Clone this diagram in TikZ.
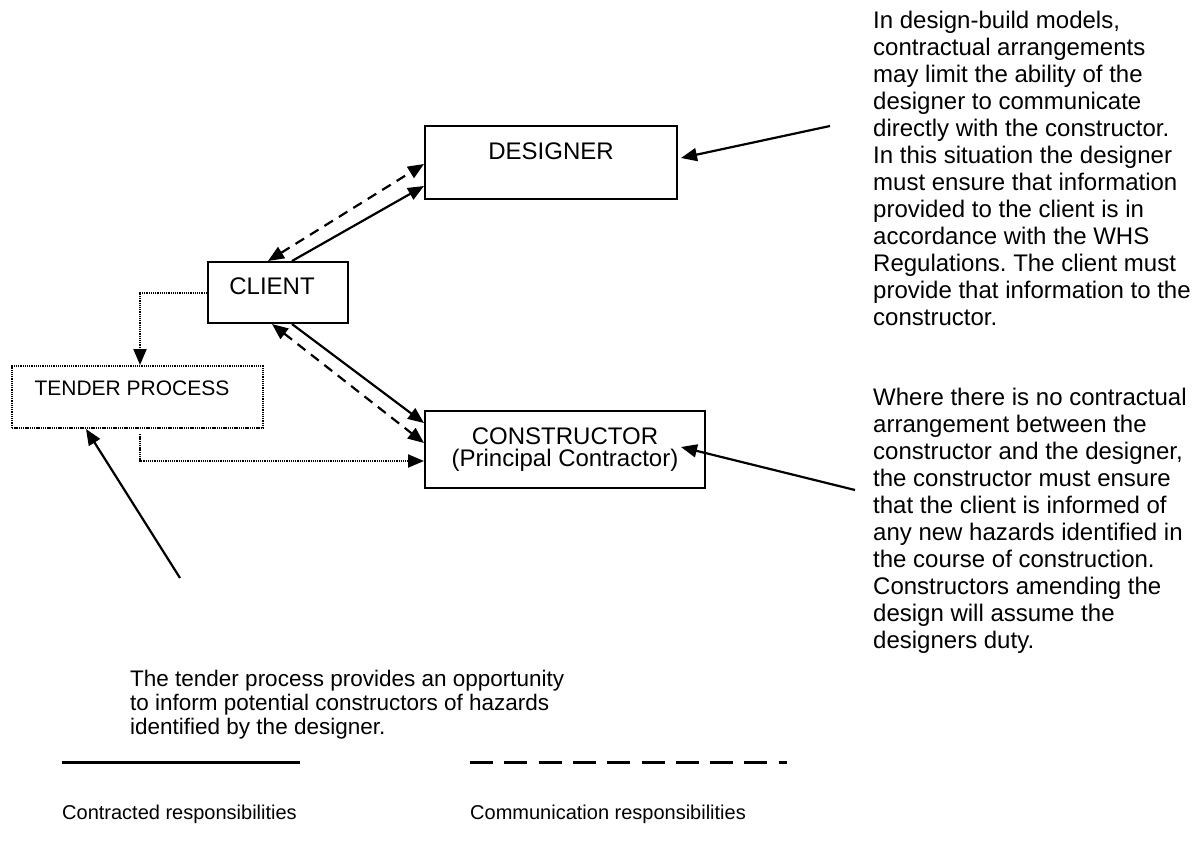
\documentclass[tikz,border=0pt]{standalone}
\usepackage{fontspec}
\setmainfont{Liberation Sans}
\usetikzlibrary{arrows.meta}
\frenchspacing

\tikzset{
  box/.style={draw, line width=2pt, inner sep=0pt},
  boxtext/.style={inner sep=0pt, font=\fontsize{24}{22}\selectfont},
  note/.style={inner sep=0pt, anchor=north west, align=left, font=\fontsize{24}{27}\selectfont},
  legend/.style={inner sep=0pt, anchor=base west, font=\fontsize{20}{23}\selectfont},
  tip/.tip={Triangle[length=16pt,width=13pt]},
  link/.style={line width=2.2pt, -tip},
  talk/.style={line width=2.2pt, tip-tip, dash pattern=on 10pt off 7pt},
  dotline/.style={line width=2pt, dash pattern=on 1.3pt off 0.9pt}
}

\begin{document}
\begin{tikzpicture}[x=1pt, y=-1pt]
\useasboundingbox (0,0) rectangle (1199,843);

% boxes
\node[box, minimum width=252pt, minimum height=73pt] (designer) at (551,162.5) {};
\node[boxtext] (designer-lbl) at (551,151) {DESIGNER};
\node[box, minimum width=140pt, minimum height=61pt] (client) at (278,292.5) {};
\node[boxtext] (client-lbl) at (272,286) {CLIENT};
\node[box, dotline, minimum width=251pt, minimum height=62pt] (tender) at (137.5,397) {};
\node[boxtext, font=\fontsize{21}{24}\selectfont] (tender-lbl) at (132,388) {TENDER PROCESS};
\node[box, minimum width=280pt, minimum height=77pt] (constructor) at (565,449.5) {};
\node[boxtext, align=center] (constructor-lbl) at (565,450) {CONSTRUCTOR\\(Principal Contractor)};

% notes
\node[note] (note-design) at (873,10.5) {In design-build models,\\contractual arrangements\\may limit the ability of the\\designer to communicate\\directly with the constructor.\\In this situation the designer\\must ensure that information\\provided to the client is in\\accordance with the WHS\\Regulations. The client must\\provide that information to the\\constructor.};
\node[note] (note-build) at (873,387.5) {Where there is no contractual\\arrangement between the\\constructor and the designer,\\the constructor must ensure\\that the client is informed of\\any new hazards identified in\\the course of construction.\\Constructors amending the\\design will assume the\\designers duty.};
\node[note, font=\fontsize{22.5}{24}\selectfont] (note-tender) at (130,669.6) {The tender process provides an opportunity\\to inform potential constructors of hazards\\identified by the designer.};

\coordinate (design-tail) at (830,126);
\coordinate (build-tail) at (855,490);
\coordinate (tender-tail) at (180,578);

% links between parties
\draw[talk] ([xshift=-10pt]client.north) -- ([yshift=-1.5pt]designer.west);
\draw[link] ([xshift=14pt]client.north) -- ([yshift=-23.5pt]designer.west);
\draw[link] ([xshift=14pt]client.south) -- ([yshift=26.5pt]constructor.west);
\draw[talk] ([xshift=-6pt]client.south) -- ([yshift=6.5pt]constructor.west);
\draw[dotline, -tip] (client.west) -| ([xshift=2.5pt]tender.north);
\draw[dotline, -tip] ([xshift=2pt,yshift=-5pt]tender.south) |- ([yshift=-11.5pt]constructor.west);

% note pointers
\draw[link] (design-tail) -- ([xshift=3pt,yshift=4.5pt]designer.east);
\draw[link] (build-tail) -- ([xshift=-25pt,yshift=2.5pt]constructor.east);
\draw[link] (tender-tail) -- ([xshift=-51.5pt]tender.south);

% legend
\coordinate (solid-a) at (62,762);
\coordinate (solid-b) at (300,762);
\coordinate (dash-a) at (470,762);
\coordinate (dash-b) at (787,762);
\draw[line width=3pt] (solid-a) -- (solid-b);
\draw[line width=3pt, dash pattern=on 23pt off 11.3pt] (dash-a) -- (dash-b);
\node[legend] (solid-lbl) at (62,819) {Contracted responsibilities};
\node[legend] (dash-lbl) at (470,819) {Communication responsibilities};
\end{tikzpicture}
\end{document}
